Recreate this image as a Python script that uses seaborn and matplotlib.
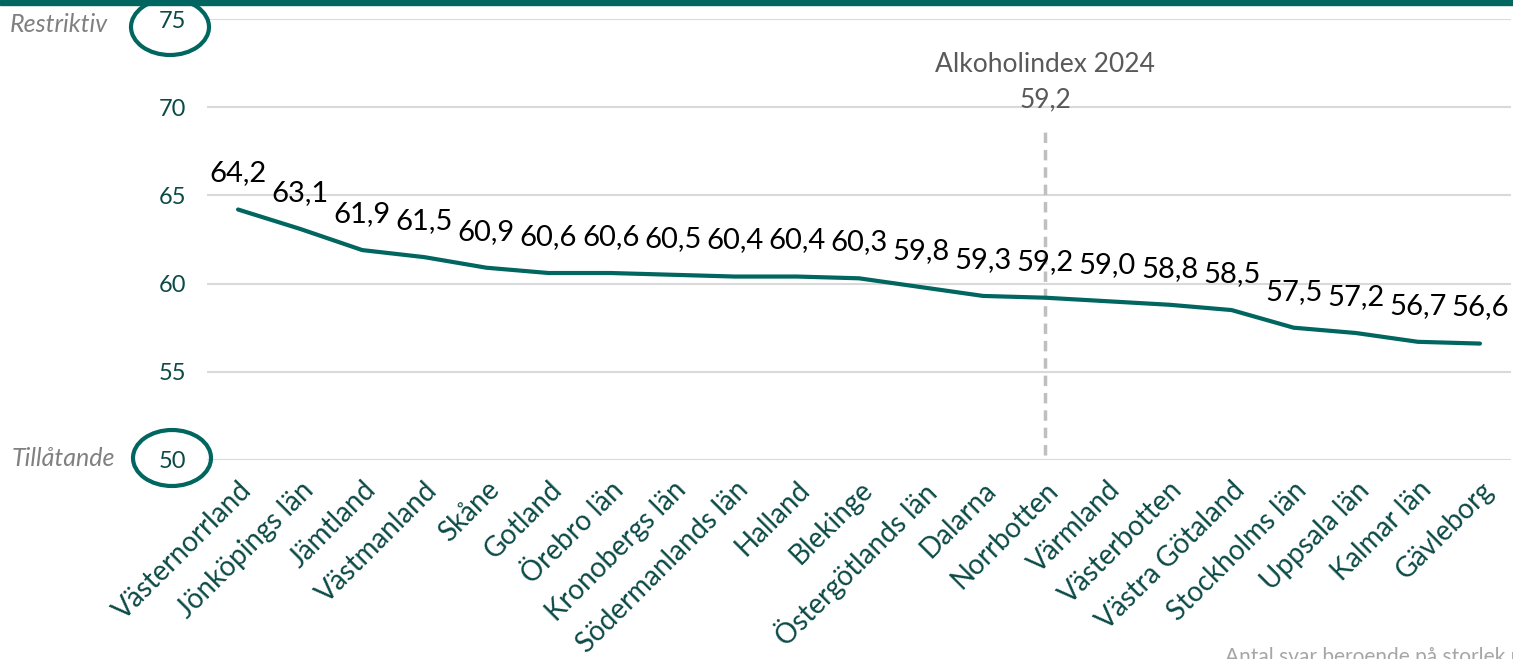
import numpy as np
import pandas as pd
import matplotlib
matplotlib.use("Agg")
import matplotlib.pyplot as plt
from matplotlib.patches import Ellipse, Rectangle
import seaborn as sns

lan = ["Västernorrland", "Jönköpings län", "Jämtland", "Västmanland", "Skåne", "Gotland",
       "Örebro län", "Kronobergs län", "Södermanlands län", "Halland", "Blekinge",
       "Östergötlands län", "Dalarna", "Norrbotten", "Värmland", "Västerbotten",
       "Västra Götaland", "Stockholms län", "Uppsala län", "Kalmar län", "Gävleborg"]
index_varden = [64.2, 63.1, 61.9, 61.5, 60.9, 60.6, 60.6, 60.5, 60.4, 60.4, 60.3,
                59.8, 59.3, 59.2, 59.0, 58.8, 58.5, 57.5, 57.2, 56.7, 56.6]
riket_lan = "Norrbotten"
riket_varde = 59.2
y_ticks = [50, 55, 60, 65, 70, 75]

teal = "#00665f"
dark_teal = "#0b4a46"
grey_txt = "#808080"

sns.set_theme(style="white")
plt.rcParams['font.family'] = ['Lato', 'DejaVu Sans']

df = pd.DataFrame({"lan": lan, "varde": index_varden})

W, H = 1513, 659
fig = plt.figure(figsize=(W / 100, H / 100), dpi=100)
ax = fig.add_axes([207 / W, 1 - 460 / H, (1511 - 207) / W, (460 - 19) / H])

sns.lineplot(data=df, x="lan", y="varde", ax=ax, color=teal, linewidth=3, sort=False)

ax.set_xlim(-0.5, len(lan) - 0.5)
ax.set_ylim(50, 75)
ax.set_yticks(y_ticks)
ax.set_yticklabels([str(t) for t in y_ticks], fontsize=17, color=dark_teal)
ax.set_xticks(range(len(lan)))
ax.set_xticklabels(lan, rotation=45, ha="right", rotation_mode="anchor",
                   fontsize=20, color=dark_teal)
ax.tick_params(axis="x", length=0, pad=12)
ax.tick_params(axis="y", length=0, pad=15)
ax.set_xlabel("")
ax.set_ylabel("")
for t in y_ticks:
    ax.axhline(t, color="#d9d9d9", linewidth=1.5, zorder=0)
for s in ax.spines.values():
    s.set_visible(False)

for i, v in enumerate(index_varden):
    ax.annotate(f"{v:.1f}".replace(".", ","), (i, v), xytext=(0, 26),
                textcoords="offset points", ha="center", va="center",
                fontsize=21, color="black")

xi = lan.index(riket_lan)
ax.plot([xi, xi], [50.3, 68.8], color="#bfbfbf", linewidth=2.5,
        linestyle=(0, (3, 2)), zorder=1)
ax.text(xi, 72.4, "Alkoholindex 2024", ha="center", va="center",
        fontsize=19, color="#595959")
ax.text(xi, 70.4, f"{riket_varde:.1f}".replace(".", ","), ha="center", va="center",
        fontsize=19, color="#595959")

# top band and side annotations in pixel coordinates of the figure
fig.patches.append(Rectangle((0, 1 - 5 / H), 1, 5 / H, transform=fig.transFigure,
                             color=teal, zorder=5))
for cx, cy in [(170, 27), (172, 458)]:
    fig.patches.append(Ellipse((cx / W, 1 - cy / H), 78 / W, 56 / H,
                               transform=fig.transFigure, fill=False,
                               edgecolor=teal, linewidth=3, zorder=5))
fig.text(10 / W, 1 - 25 / H, "Restriktiv", ha="left", va="center",
         fontsize=18, style="italic", color=grey_txt)
fig.text(12 / W, 1 - 458 / H, "Tillåtande", ha="left", va="center",
         fontsize=18, style="italic", color=grey_txt)
fig.text(1225 / W, 1 - 647 / H, "Antal svar beroende på storlek på länet",
         ha="left", va="top", fontsize=15, color="#a6a6a6")

fig.savefig("out.png", dpi=100)
